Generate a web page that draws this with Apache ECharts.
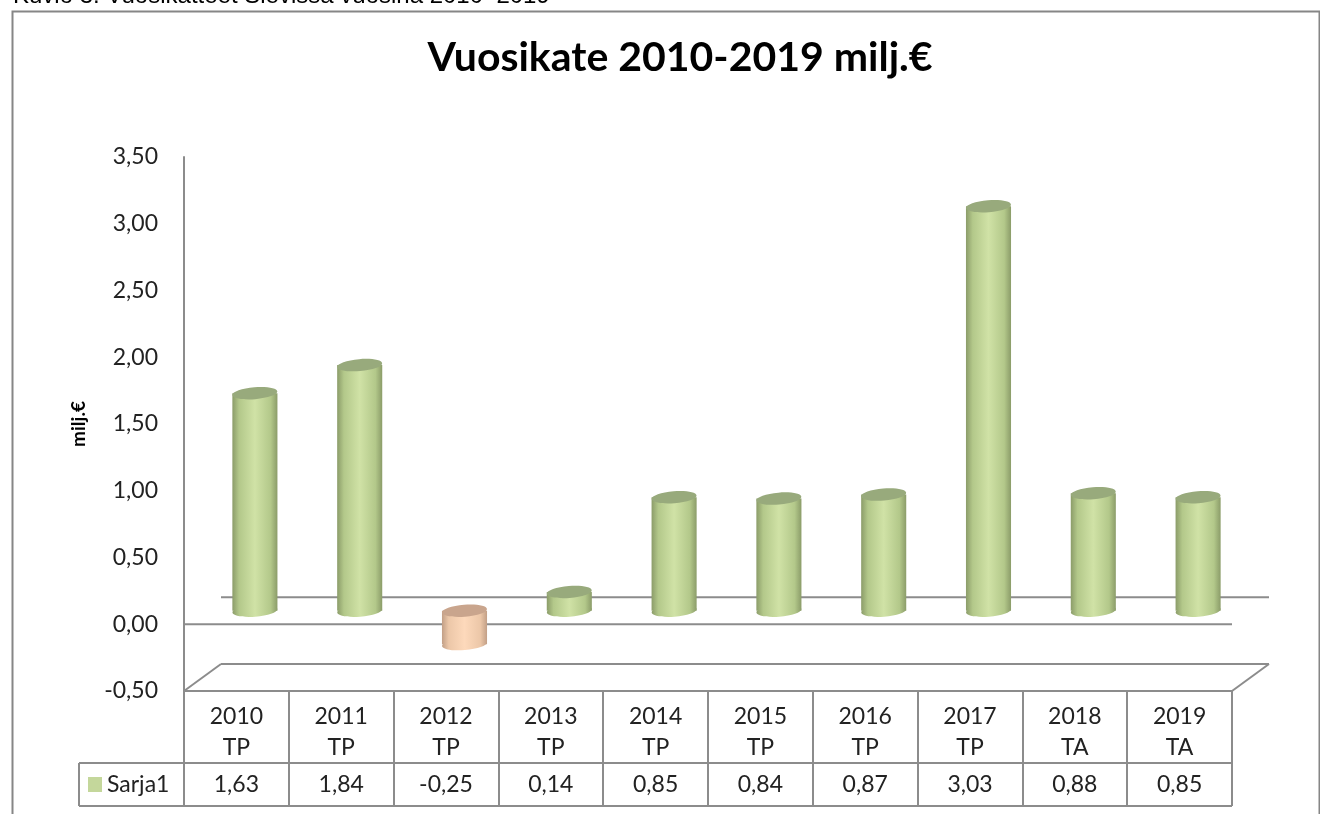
<!DOCTYPE html>
<html>
<head>
<meta charset="utf-8">
<title>Vuosikate 2010-2019</title>
<script src="https://cdn.jsdelivr.net/npm/echarts@6/dist/echarts.min.js"></script>
<style>
  html, body { margin: 0; padding: 0; background: #fff; }
  #chart { width: 1320px; height: 814px; }
</style>
</head>
<body>
<div id="chart"></div>
<script>
// --- data ---
var caption = 'Kuvio 3. Vuosikatteet Sievissä vuosina 2010–2019';
var chartTitle = 'Vuosikate 2010-2019 milj.€';
var yName = 'milj.€';
var seriesName = 'Sarja1';
var years = ['2010', '2011', '2012', '2013', '2014', '2015', '2016', '2017', '2018', '2019'];
var phases = ['TP', 'TP', 'TP', 'TP', 'TP', 'TP', 'TP', 'TP', 'TA', 'TA'];
var values = [1.63, 1.84, -0.25, 0.14, 0.85, 0.84, 0.87, 3.03, 0.88, 0.85];
var yMin = -0.5, yMax = 3.5, yStep = 0.5;

// 3D look: depth of the back wall in px
var depthX = 37, depthY = -27;
var gray = '#8c8c8c';
var font = 'Lato, "Noto Sans", sans-serif';

var posColors = { edge: '#8b9c69', mid: '#b3c88a', light: '#d0e2a6', top: '#98aa7c' };
var negColors = { edge: '#c29f86', mid: '#ecc7a8', light: '#fdd9bb', top: '#c9a58d' };

function fmt(v) {
    return v.toFixed(2).replace('.', ',');
}

var categories = years.map(function (y, i) { return y + '\n' + phases[i]; });

// floor, back wall zero line and the left part of the data table
function renderDecor(params, api) {
    var cs = params.coordSys;
    var x0 = cs.x, x1 = cs.x + cs.width;
    var yZero = api.coord([0, 0])[1];
    var yFloor = api.coord([0, yMin])[1];
    var tableTop = cs.y + cs.height;
    var rowSplit = tableTop + 72;
    var tableBottom = tableTop + 115;
    var legendLeft = x0 - 105;
    var ls = { stroke: gray, lineWidth: 2 };
    function line(ax, ay, bx, by) {
        return { type: 'line', shape: { x1: ax, y1: ay, x2: bx, y2: by }, style: ls };
    }
    return {
        type: 'group',
        children: [
            line(x0 + depthX, yZero + depthY, x1 + depthX, yZero + depthY),
            line(x0, yZero, x1, yZero),
            line(x0 + depthX, yFloor + depthY, x1 + depthX, yFloor + depthY),
            line(x0, yFloor, x0 + depthX, yFloor + depthY),
            line(x1, yFloor, x1 + depthX, yFloor + depthY),
            line(legendLeft, rowSplit, x1, rowSplit),
            line(legendLeft, tableBottom, x1, tableBottom),
            line(legendLeft, rowSplit, legendLeft, tableBottom),
            {
                type: 'rect',
                shape: { x: legendLeft + 9, y: rowSplit + 14, width: 14, height: 15 },
                style: { fill: '#c4d79b' }
            },
            {
                type: 'text',
                style: {
                    x: legendLeft + 28, y: rowSplit + 22, text: seriesName,
                    align: 'left', verticalAlign: 'middle',
                    font: '23px ' + font, fill: '#222'
                }
            }
        ]
    };
}

function renderCylinder(params, api) {
    var i = api.value(0), v = api.value(1);
    var base = api.coord([i, 0]);
    var top = api.coord([i, v]);
    var cx = base[0] + depthX / 2;
    var yZero = base[1] + depthY / 2;
    var yVal = top[1] + depthY / 2;
    var w = api.size([1, 0])[0] * 0.43;
    var rx = w / 2, ry = 6;
    var yTop = Math.min(yZero, yVal), yBot = Math.max(yZero, yVal);
    var c = v < 0 ? negColors : posColors;
    var grad = new echarts.graphic.LinearGradient(0, 0, 1, 0, [
        { offset: 0, color: c.edge },
        { offset: 0.15, color: c.mid },
        { offset: 0.5, color: c.light },
        { offset: 0.85, color: c.mid },
        { offset: 1, color: c.edge }
    ]);
    var rot = 0.08;
    var cs = params.coordSys;
    var tableTop = cs.y + cs.height;
    return {
        type: 'group',
        children: [
            {
                type: 'ellipse', shape: { cx: cx, cy: yBot, rx: rx, ry: ry },
                rotation: rot, originX: cx, originY: yBot, style: { fill: grad }
            },
            {
                type: 'rect', shape: { x: cx - rx, y: yTop, width: w, height: yBot - yTop },
                style: { fill: grad }
            },
            {
                type: 'ellipse', shape: { cx: cx, cy: yTop, rx: rx, ry: ry },
                rotation: rot, originX: cx, originY: yTop, style: { fill: c.top }
            },
            {
                type: 'text',
                style: {
                    x: base[0], y: tableTop + 94, text: fmt(v),
                    align: 'center', verticalAlign: 'middle',
                    font: '23px ' + font, fill: '#222'
                }
            }
        ]
    };
}

var myChart = echarts.init(document.getElementById('chart'));
myChart.setOption({
    animation: false,
    grid: { left: 184, right: 88, top: 157, bottom: 123 },
    graphic: [
        {
            type: 'rect', left: 10, top: 9,
            shape: { width: 1307, height: 830 },
            style: { fill: 'none', stroke: '#868686', lineWidth: 2 }
        },
        {
            type: 'text', x: 13, y: 8,
            style: {
                text: caption, font: '24px "Liberation Sans", Arial, sans-serif',
                fill: '#000', verticalAlign: 'bottom'
            }
        },
        {
            type: 'text', x: 680, y: 58,
            style: {
                text: chartTitle, font: 'bold 41px ' + font,
                fill: '#000', align: 'center', verticalAlign: 'middle'
            }
        }
    ],
    xAxis: {
        type: 'category',
        data: categories,
        axisLine: { onZero: false, lineStyle: { color: gray, width: 2 } },
        axisTick: { show: true, interval: 0, length: 115, lineStyle: { color: gray, width: 2 } },
        axisLabel: {
            interval: 0, margin: 10, fontFamily: font, fontSize: 23,
            lineHeight: 31, color: '#222'
        },
        splitLine: { show: false }
    },
    yAxis: {
        type: 'value',
        min: yMin, max: yMax, interval: yStep,
        name: yName,
        nameLocation: 'middle',
        nameGap: 96,
        nameTextStyle: { fontFamily: font, fontSize: 19, fontWeight: 'bold', color: '#000' },
        axisLine: { show: true, lineStyle: { color: gray, width: 2 } },
        axisTick: { show: false },
        splitLine: { show: false },
        axisLabel: {
            margin: 26, fontFamily: font, fontSize: 23, color: '#222',
            formatter: function (v) { return fmt(v); }
        }
    },
    series: [
        {
            type: 'custom',
            name: 'decor',
            z: 1,
            silent: true,
            renderItem: renderDecor,
            data: [[0, 0]]
        },
        {
            type: 'custom',
            name: seriesName,
            z: 2,
            renderItem: renderCylinder,
            encode: { x: 0, y: 1 },
            data: values.map(function (v, i) { return [i, v]; })
        }
    ]
});
</script>
</body>
</html>
